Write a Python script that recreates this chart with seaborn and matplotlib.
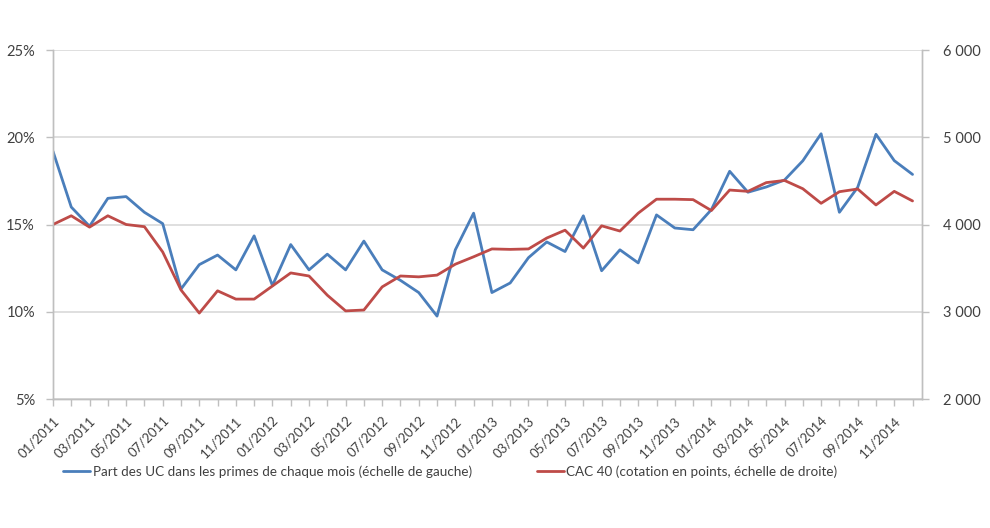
import matplotlib
matplotlib.use("Agg")
import matplotlib.pyplot as plt
import matplotlib.ticker as mticker
import pandas as pd
import seaborn as sns

# Mois de janvier 2011 à décembre 2014
mois = [f"{m:02d}/{a}" for a in range(2011, 2015) for m in range(1, 13)]

# Part des UC dans les primes (%)
part_uc = [19.2, 16.0, 14.9, 16.5, 16.6, 15.7, 15.05, 11.3, 12.7, 13.25, 12.4, 14.35,
           11.5, 13.85, 12.4, 13.3, 12.4, 14.05, 12.4, 11.8, 11.1, 9.75, 13.55, 15.65,
           11.1, 11.65, 13.1, 14.0, 13.45, 15.5, 12.35, 13.55, 12.8, 15.55, 14.8, 14.7,
           15.85, 18.05, 16.85, 17.15, 17.55, 18.65, 20.2, 15.7, 17.13, 20.17, 18.66, 17.87]

# CAC 40 (points)
cac40 = [4000, 4100, 3970, 4100, 4000, 3975, 3685, 3250, 2985, 3240, 3145, 3145,
         3295, 3445, 3410, 3190, 3010, 3020, 3285, 3410, 3400, 3420, 3545, 3630,
         3720, 3715, 3720, 3845, 3935, 3730, 3985, 3925, 4130, 4290, 4290, 4285,
         4160, 4395, 4380, 4480, 4505, 4410, 4243, 4376, 4407, 4224, 4380, 4270]

df = pd.DataFrame({"idx": range(len(mois)), "mois": mois, "uc": part_uc, "cac": cac40})

sns.set_style("white")
plt.rcParams["font.family"] = ["Lato", "DejaVu Sans"]

bleu = "#4a7ebb"
rouge = "#be4b48"
gris = "#d9d9d9"
texte = "#404040"

fig = plt.figure(figsize=(9.9, 5.28), dpi=100)
ax = fig.add_axes([0.0535, 0.2443, 0.8775, 0.6610])
ax2 = ax.twinx()

sns.lineplot(data=df, x="idx", y="uc", ax=ax, color=bleu, linewidth=2.0,
             label="Part des UC dans les primes de chaque mois (échelle de gauche)", legend=False)
sns.lineplot(data=df, x="idx", y="cac", ax=ax2, color=rouge, linewidth=2.0,
             label="CAC 40 (cotation en points, échelle de droite)", legend=False)

ax.set_ylim(5, 25)
ax.set_yticks([5, 10, 15, 20, 25])
ax.yaxis.set_major_formatter(mticker.FuncFormatter(lambda v, p: f"{v:.0f}%"))
ax2.set_ylim(2000, 6000)
ax2.set_yticks([2000, 3000, 4000, 5000, 6000])
ax2.yaxis.set_major_formatter(mticker.FuncFormatter(lambda v, p: f"{int(v):,}".replace(",", " ")))

ax.set_xlim(0, 47.5)
ax.set_xticks(range(0, len(mois), 2))
ax.set_xticklabels(mois[::2], rotation=45, ha="right", rotation_mode="anchor")
ax.set_xticks(range(0, len(mois)), minor=True)

ax.grid(axis="y", color=gris, linewidth=1.2)
ax.set_axisbelow(True)
ax.set_xlabel("")
ax.set_ylabel("")
ax2.set_ylabel("")

for a in (ax, ax2):
    a.spines["top"].set_visible(False)
    for s in ("left", "right", "bottom"):
        a.spines[s].set_color("#bfbfbf")
        a.spines[s].set_linewidth(1.0)

ax.tick_params(axis="y", labelsize=10.5, colors=texte, length=5, width=1, color="#bfbfbf", pad=8)
ax2.tick_params(axis="y", labelsize=10.5, colors=texte, length=5, width=1, color="#bfbfbf", pad=10)
ax.tick_params(axis="x", which="both", labelsize=9.5, colors=texte, length=5, width=1,
               color="#bfbfbf", bottom=True, pad=6)

h1, l1 = ax.get_legend_handles_labels()
h2, l2 = ax2.get_legend_handles_labels()
fig.legend(h1 + h2, l1 + l2, loc="center", bbox_to_anchor=(0.455, 0.107), ncol=2,
           frameon=False, fontsize=9.7, handlelength=2.0, handletextpad=0.2,
           columnspacing=4.8, labelcolor=texte)

fig.savefig("out.png", dpi=100)
